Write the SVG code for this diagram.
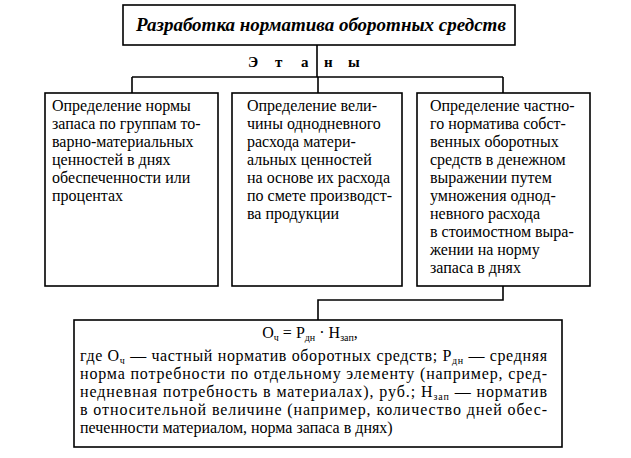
<svg xmlns="http://www.w3.org/2000/svg" width="631" height="458" viewBox="0 0 631 458">
<style>
.box{fill:#fff;stroke:#000;stroke-width:1.6}
.ln{fill:none;stroke:#000;stroke-width:1.6}
.t{font-family:'Liberation Serif','DejaVu Serif',serif;font-size:16px;fill:#000}
.sub{font-size:10px}
.title{font-family:'Liberation Serif','DejaVu Serif',serif;font-size:19px;font-weight:bold;font-style:italic}
.et{font-family:'Liberation Serif','DejaVu Serif',serif;font-size:15px;font-weight:bold}
</style>
<rect width="631" height="458" fill="#fff"/>
<g id="connectors">
<path class="ln" d="M317,45 V77 M132,77 H503 M132,77 V93 M318,77 V93 M503,77 V93"/>
<path class="ln" d="M503,286 V300 H318 V320"/>
</g>
<g id="title">
<rect class="box" x="123" y="5" width="392" height="40"/>
<text class="title" x="321" y="31" text-anchor="middle">Разработка норматива оборотных средств</text>
</g>
<g id="stages">
<text class="et" y="67"><tspan x="248">Э</tspan><tspan x="275">т</tspan><tspan x="301">а</tspan><tspan x="324">н</tspan><tspan x="348">ы</tspan></text>
</g>
<g id="stage1">
<rect class="box" x="45" y="93" width="173" height="193"/>
<text class="t">
<tspan x="52" y="111">Определение нормы</tspan>
<tspan x="52" y="129">запаса по группам то-</tspan>
<tspan x="52" y="147">варно-материальных</tspan>
<tspan x="52" y="165">ценностей в днях</tspan>
<tspan x="52" y="183">обеспеченности или</tspan>
<tspan x="52" y="201">процентах</tspan>
</text>
</g>
<g id="stage2">
<rect class="box" x="232" y="93" width="170" height="193"/>
<text class="t">
<tspan x="247" y="111">Определение вели-</tspan>
<tspan x="247" y="129">чины однодневного</tspan>
<tspan x="247" y="147">расхода матери-</tspan>
<tspan x="247" y="165">альных ценностей</tspan>
<tspan x="247" y="183">на основе их расхода</tspan>
<tspan x="247" y="201">по смете производст-</tspan>
<tspan x="247" y="219">ва продукции</tspan>
</text>
</g>
<g id="stage3">
<rect class="box" x="417" y="93" width="173" height="193"/>
<text class="t">
<tspan x="430" y="111">Определение частно-</tspan>
<tspan x="430" y="129">го норматива собст-</tspan>
<tspan x="430" y="147">венных оборотных</tspan>
<tspan x="430" y="165">средств в денежном</tspan>
<tspan x="430" y="183">выражении путем</tspan>
<tspan x="430" y="201">умножения однод-</tspan>
<tspan x="430" y="219">невного расхода</tspan>
<tspan x="430" y="237">в стоимостном выра-</tspan>
<tspan x="430" y="255">жении на норму</tspan>
<tspan x="430" y="273">запаса в днях</tspan>
</text>
</g>
<g id="formula">
<rect class="box" x="74" y="320" width="488" height="127"/>
<text class="t" x="310" y="338" text-anchor="middle">О<tspan class="sub" dy="3">ч</tspan><tspan dy="-3"> = Р</tspan><tspan class="sub" dy="3">дн</tspan><tspan dy="-3"> · Н</tspan><tspan class="sub" dy="3">зап</tspan><tspan dy="-3">,</tspan></text>
<text class="t" x="80" y="361" textLength="467" lengthAdjust="spacing">где О<tspan class="sub" dy="3">ч</tspan><tspan dy="-3"> — частный норматив оборотных средств; Р</tspan><tspan class="sub" dy="3">дн</tspan><tspan dy="-3"> — средняя</tspan></text>
<text class="t" x="80" y="379" textLength="467" lengthAdjust="spacing">норма потребности по отдельному элементу (например, сред-</text>
<text class="t" x="80" y="397" textLength="467" lengthAdjust="spacing">недневная потребность в материалах), руб.; Н<tspan class="sub" dy="3">зап</tspan><tspan dy="-3"> — норматив</tspan></text>
<text class="t" x="80" y="415" textLength="467" lengthAdjust="spacing">в относительной величине (например, количество дней обес-</text>
<text class="t" x="80" y="433">печенности материалом, норма запаса в днях)</text>
</g>
</svg>
